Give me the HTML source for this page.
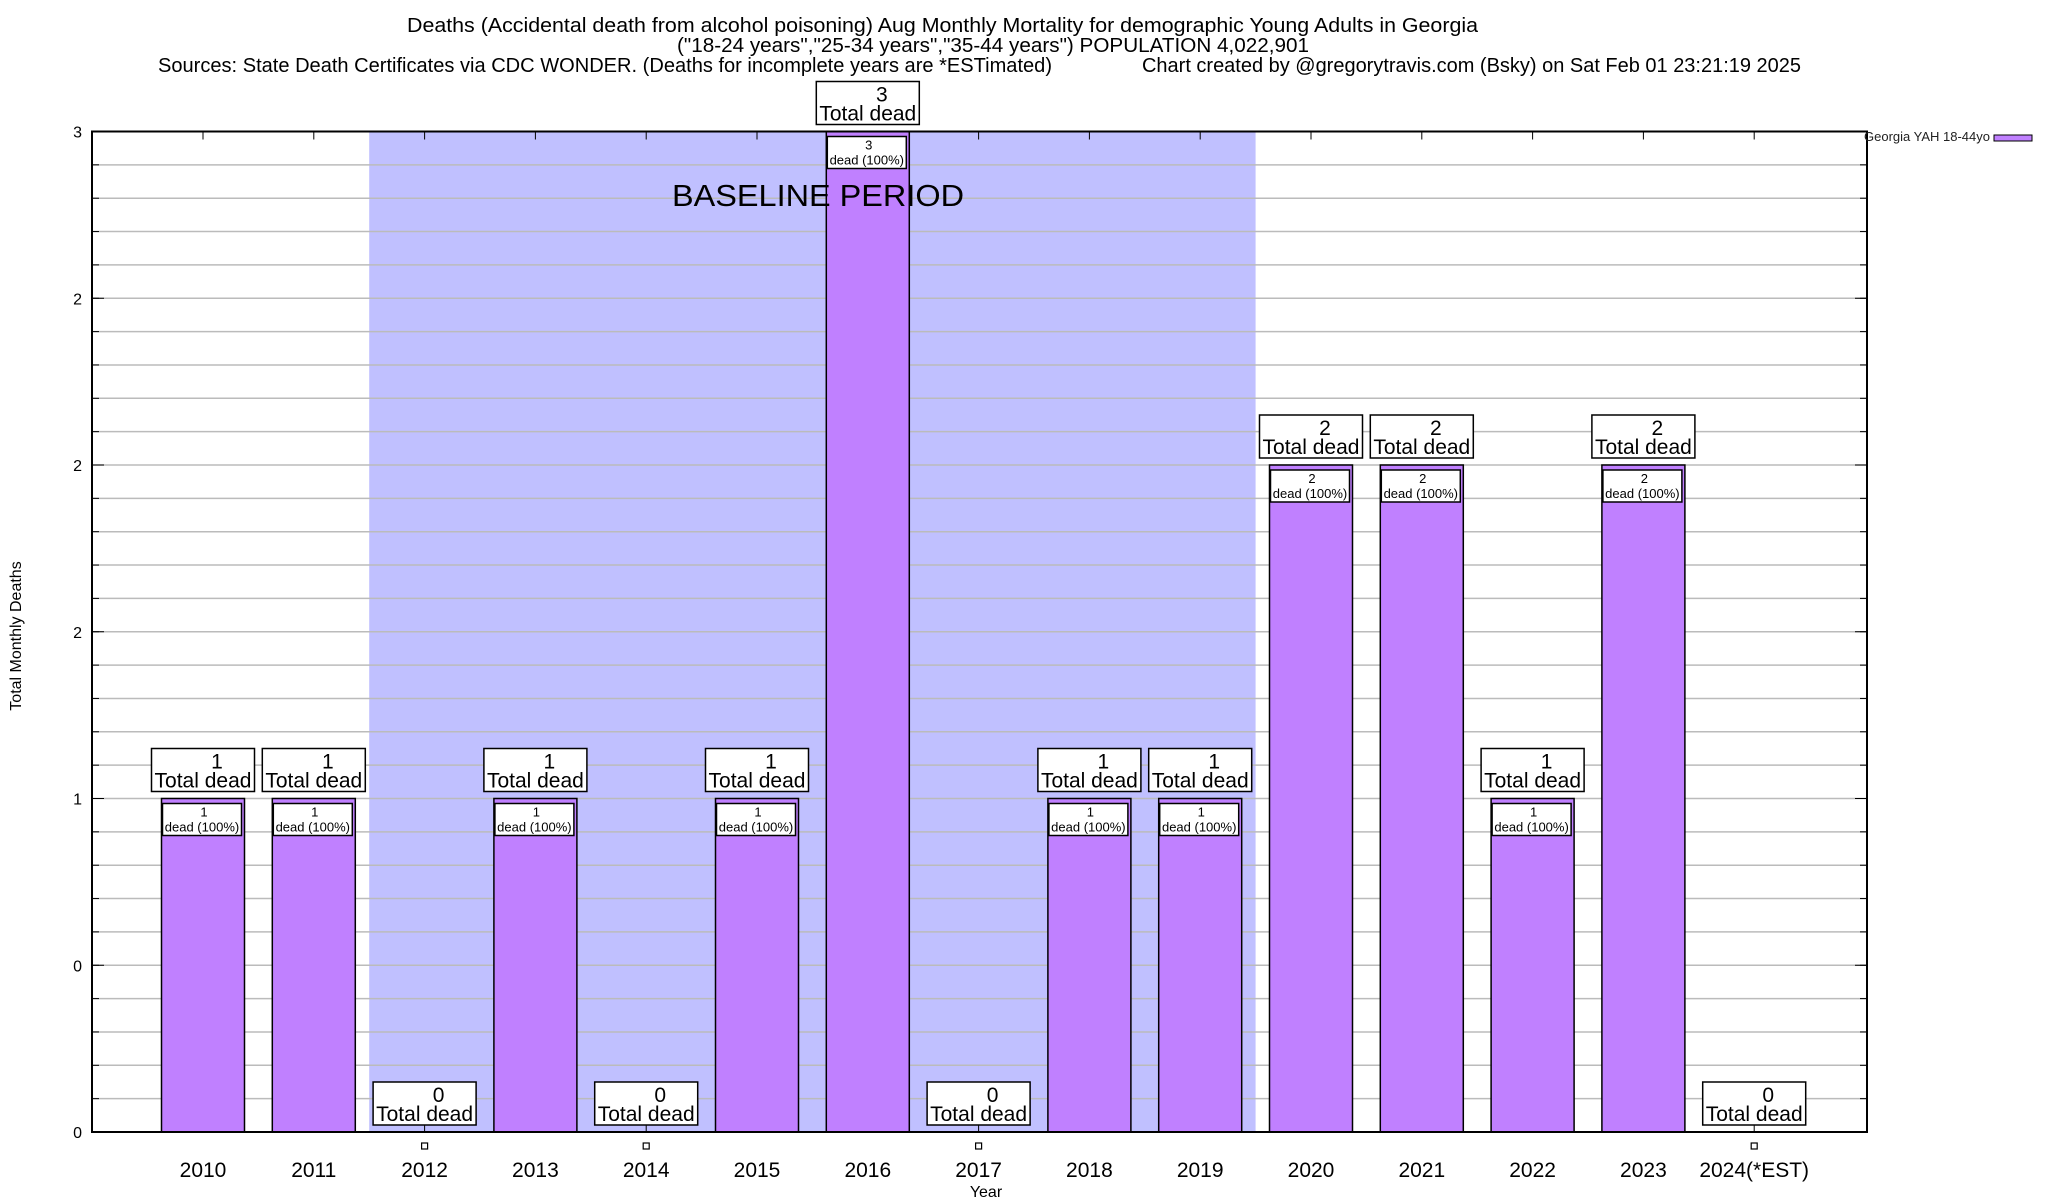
<!DOCTYPE html>
<html><head><meta charset="utf-8"><style>
html,body{margin:0;padding:0;background:#fff;}
svg{display:block;font-family:"Liberation Sans",Arial,sans-serif;}
</style></head><body>
<svg id="chart" width="2048" height="1200" viewBox="0 0 2048 1200">
<g id="titles">
<text x="407" y="32" font-size="20" textLength="1071" lengthAdjust="spacingAndGlyphs">Deaths (Accidental death from alcohol poisoning) Aug Monthly Mortality for demographic Young Adults in Georgia</text>
<text x="677" y="52" font-size="20" textLength="632" lengthAdjust="spacingAndGlyphs">("18-24 years","25-34 years","35-44 years") POPULATION 4,022,901</text>
<text x="158" y="72" font-size="20" textLength="894" lengthAdjust="spacingAndGlyphs">Sources: State Death Certificates via CDC WONDER. (Deaths for incomplete years are *ESTimated)</text>
<text x="1142" y="72" font-size="20" textLength="659" lengthAdjust="spacingAndGlyphs">Chart created by @gregorytravis.com (Bsky) on Sat Feb 01 23:21:19 2025</text>
</g>
<g id="plot"></g>
<text x="986" y="1197" font-size="16" text-anchor="middle">Year</text>
<text transform="translate(21,636) rotate(-90)" font-size="16" text-anchor="middle">Total Monthly Deaths</text>
<g>
<text x="1990" y="141" font-size="13" text-anchor="end" fill="#222">Georgia YAH 18-44yo</text>
<rect x="1994" y="135" width="38" height="6" fill="#c080ff" stroke="#000" stroke-width="1"/>
</g>
</svg>
<script>
const categories=["2010","2011","2012","2013","2014","2015","2016","2017","2018","2019","2020","2021","2022","2023","2024(*EST)"];
const deaths=[1,1,0,1,0,1,3,0,1,1,2,2,1,2,0];
const yTickValues=[0,0.5,1,1.5,2,2.5,3];
const yTickLabels=["0","0","1","2","2","2","3"];
const baselineRange=[1.5,9.5];
const NS="http://www.w3.org/2000/svg";
const L=92,R=1867,T=131.5,B=1132,YMAX=3;
const x0=203,step=110.8,barW=83;
function xs(i){return x0+step*i;}
function ys(v){return B-(v/YMAX)*(B-T);}
const plot=document.getElementById('plot');
function mk(tag,attrs,parent){const e=document.createElementNS(NS,tag);for(const k in attrs)e.setAttribute(k,attrs[k]);(parent||plot).appendChild(e);return e;}
const bg=mk('rect',{x:L,y:T,width:R-L,height:B-T,fill:'#fff'});


const shade=mk('rect',{x:xs(baselineRange[0]),y:T,width:xs(baselineRange[1])-xs(baselineRange[0]),height:B-T,fill:'#c0c0ff'});


for(let k=1;k<30;k++){const v=k*0.1;const y=ys(v);
 const g=mk('line',{x1:L,x2:R,y1:y,y2:y,stroke:'#bbb','stroke-width':1.5});
 
 
 mk('line',{x1:L,x2:L+7,y1:y,y2:y,stroke:'#000','stroke-width':1});
 mk('line',{x1:R-7,x2:R,y1:y,y2:y,stroke:'#000','stroke-width':1});
}
yTickValues.forEach((v,i)=>{const y=ys(v);
 const t=mk('text',{x:82,y:y+6,'font-size':16,'text-anchor':'end'});t.textContent=yTickLabels[i];
 
 
 mk('line',{x1:L,x2:L+12,y1:y,y2:y,stroke:'#000','stroke-width':1});
 mk('line',{x1:R-12,x2:R,y1:y,y2:y,stroke:'#000','stroke-width':1});
});
categories.forEach((c,i)=>{
 const cx=xs(i),v=deaths[i],top=ys(v);
 mk('line',{x1:cx,x2:cx,y1:T,y2:T+8,stroke:'#000','stroke-width':1});
 mk('line',{x1:cx,x2:cx,y1:B,y2:B-8,stroke:'#000','stroke-width':1});
 if(v>0){
  const b=mk('rect',{x:cx-barW/2,y:top,width:barW,height:B-top,fill:'#c080ff',stroke:'#000','stroke-width':1.5});
  
  
  const ib=mk('rect',{x:cx-barW/2+1,y:top+5,width:barW-4,height:32,fill:'#fff',stroke:'#000','stroke-width':1.5});
  
  
  const t1=mk('text',{x:cx+1,y:top+18,'font-size':13,'text-anchor':'middle'});t1.textContent=String(v);
  
  
  const t2=mk('text',{x:cx-1,y:top+33,'font-size':13,'text-anchor':'middle'});t2.textContent='dead (100%)';
  
  
 } else {
  const m=mk('rect',{x:cx-3,y:1143,width:6,height:6,fill:'#fff',stroke:'#000','stroke-width':1.2});
  
  
 }
 const bt=top-7-43;
 const box=mk('rect',{x:cx-51.5,y:bt,width:103,height:43,fill:'#fff',stroke:'#000','stroke-width':1.5});
 
 
 const n=mk('text',{x:cx+14,y:bt+20,'font-size':21,'text-anchor':'middle'});n.textContent=String(v);
 
 
 const td=mk('text',{x:cx,y:bt+39,'font-size':21,'text-anchor':'middle'});td.textContent='Total dead';
 
 
 const xl=mk('text',{x:cx,y:1177,'font-size':21,'text-anchor':'middle'});xl.textContent=c;
 
 
});
const bl=mk('text',{x:672,y:206,'font-size':31,textLength:292,lengthAdjust:'spacingAndGlyphs'});
bl.textContent='BASELINE PERIOD';


const fr=mk('rect',{x:L,y:T,width:R-L,height:B-T,fill:'none',stroke:'#000','stroke-width':2});


</script>
</body></html>
